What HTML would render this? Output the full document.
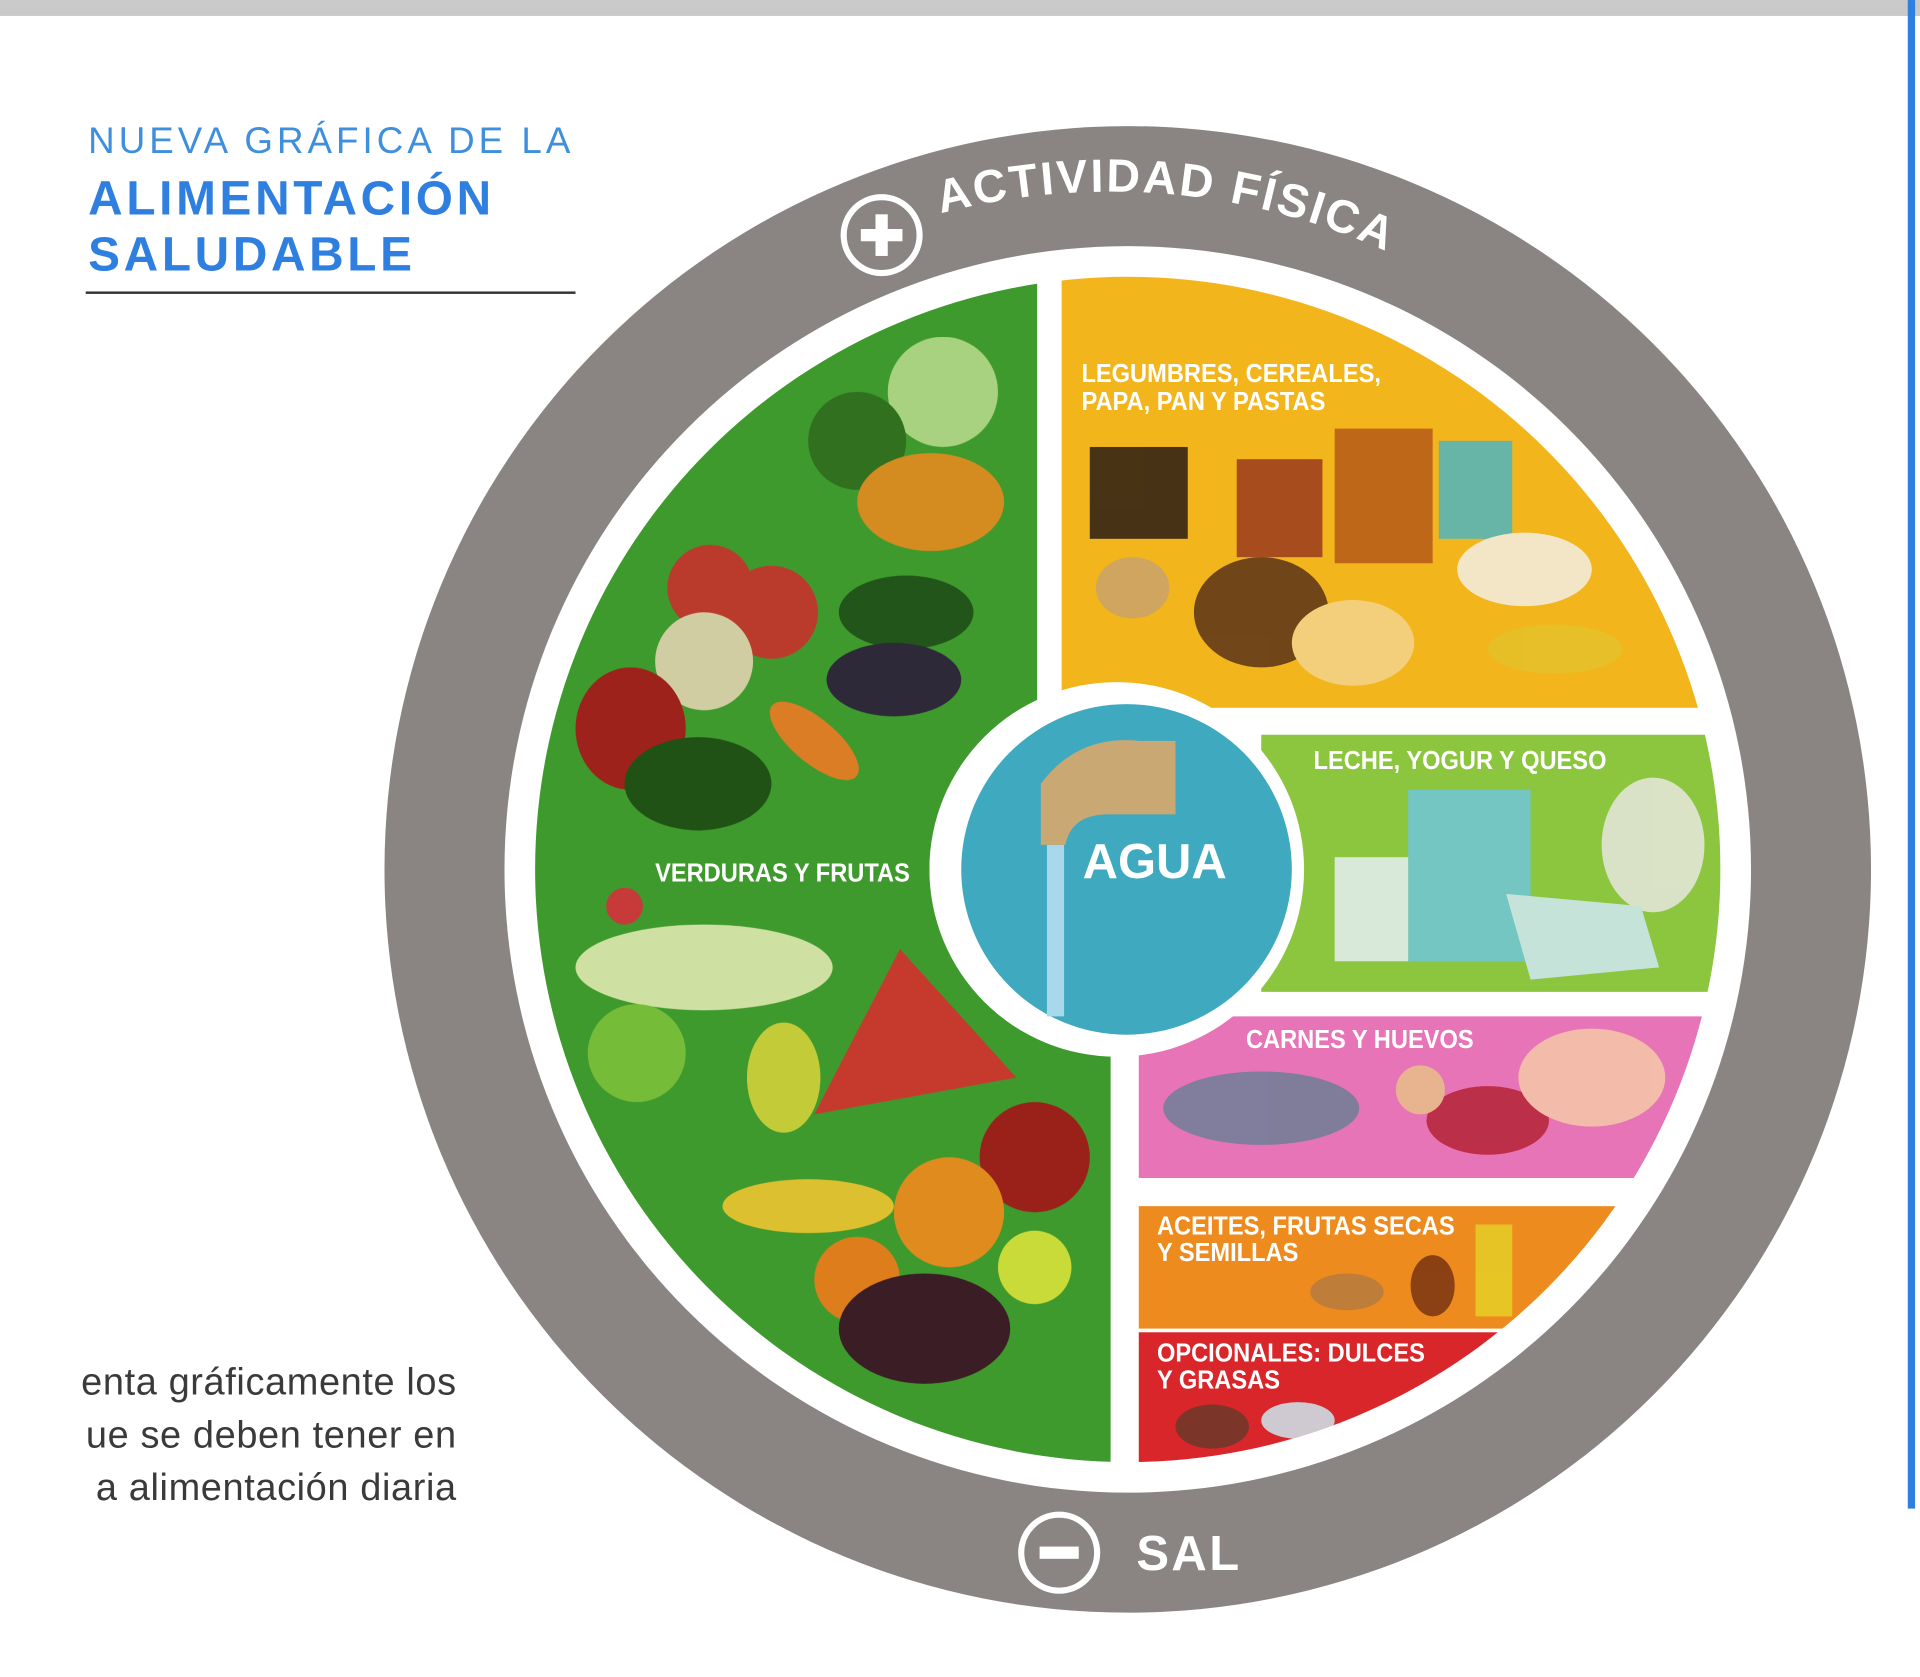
<!DOCTYPE html>
<html><head><meta charset="utf-8"><style>
html,body{margin:0;padding:0;background:#fff;}
svg{display:block;}
</style></head><body>
<svg width="1920" height="1677" viewBox="0 0 1568 1369.5" xmlns="http://www.w3.org/2000/svg">
<defs>
<clipPath id="plate"><circle cx="921" cy="710" r="484"/></clipPath>
<path id="arcTop" d="M 768.3 174.3 A 545 545 0 0 1 1193.5 238"/>
</defs>
<rect x="0" y="0" width="1568" height="13" fill="#c9c9c9"/>
<rect x="1558" y="0" width="6" height="1232" fill="#2f7fe0"/>

<text x="72" y="125" font-family="Liberation Sans, sans-serif" font-size="30" fill="#3f8fdc" letter-spacing="3.3">NUEVA GRÁFICA DE LA</text>
<text x="72" y="175" font-family="Liberation Sans, sans-serif" font-size="39" font-weight="bold" fill="#2f7fe0" letter-spacing="3">ALIMENTACIÓN</text>
<text x="72" y="221" font-family="Liberation Sans, sans-serif" font-size="39" font-weight="bold" fill="#2f7fe0" letter-spacing="3">SALUDABLE</text>
<rect x="70" y="238" width="400" height="2" fill="#333"/>

<g font-family="Liberation Sans, sans-serif" font-size="31" fill="#3a3a3a" text-anchor="end" letter-spacing="0.5">
<text x="373" y="1139">enta gráficamente los</text>
<text x="373" y="1182">ue se deben tener en</text>
<text x="373" y="1225">a alimentación diaria</text>
</g>

<circle cx="921" cy="710" r="607" fill="#8a8583"/>
<circle cx="921" cy="710" r="509" fill="#fff"/>

<g clip-path="url(#plate)">
<path d="M 430 220 L 847 220 L 847 600 L 907 600 L 907 1200 L 430 1200 Z" fill="#3f9a2d"/>
<rect x="867" y="220" width="560" height="358" fill="#f2b51c"/>
<rect x="1030" y="600" width="375" height="210" fill="#8cc63f"/>
<rect x="930" y="830" width="460" height="132" fill="#e874b8"/>
<rect x="930" y="985" width="390" height="100" fill="#ee8b1e"/>
<rect x="930" y="1088" width="300" height="120" fill="#d9262a"/>

<g opacity="0.9">
<circle cx="770" cy="320" r="45" fill="#b5d98a"/>
<circle cx="700" cy="360" r="40" fill="#2f6b1f"/>
<ellipse cx="760" cy="410" rx="60" ry="40" fill="#e6891f"/>
<circle cx="580" cy="480" r="35" fill="#c9302c"/>
<circle cx="630" cy="500" r="38" fill="#c9302c"/>
<circle cx="575" cy="540" r="40" fill="#e3d3b0"/>
<ellipse cx="740" cy="500" rx="55" ry="30" fill="#1f4d18"/>
<ellipse cx="730" cy="555" rx="55" ry="30" fill="#2c1c3b"/>
<ellipse cx="515" cy="595" rx="45" ry="50" fill="#a8151a"/>
<ellipse cx="570" cy="640" rx="60" ry="38" fill="#1e4a14"/>
<ellipse cx="665" cy="605" rx="45" ry="18" fill="#ec7a24" transform="rotate(40 665 605)"/>
<ellipse cx="575" cy="790" rx="105" ry="35" fill="#dfe9b0"/>
<circle cx="520" cy="860" r="40" fill="#7cc13c"/>
<path d="M 735 775 L 830 880 L 665 910 Z" fill="#d62f2f"/>
<ellipse cx="640" cy="880" rx="30" ry="45" fill="#d4d13a"/>
<circle cx="845" cy="945" r="45" fill="#a41419"/>
<ellipse cx="660" cy="985" rx="70" ry="22" fill="#f0c531"/>
<circle cx="775" cy="990" r="45" fill="#f28a1c"/>
<circle cx="700" cy="1045" r="35" fill="#f07a1a"/>
<circle cx="845" cy="1035" r="30" fill="#d9e23a"/>
<ellipse cx="755" cy="1085" rx="70" ry="45" fill="#3b0f25"/>
<circle cx="510" cy="740" r="15" fill="#d6303c"/>
</g>
<g opacity="0.85">
<rect x="890" y="365" width="80" height="75" fill="#2a1c14"/>
<rect x="1010" y="375" width="70" height="80" fill="#9a3a1c"/>
<rect x="1090" y="350" width="80" height="110" fill="#b55a18"/>
<rect x="1175" y="360" width="60" height="80" fill="#4fb5c0"/>
<ellipse cx="1245" cy="465" rx="55" ry="30" fill="#f4efe4"/>
<ellipse cx="1030" cy="500" rx="55" ry="45" fill="#5a3318"/>
<ellipse cx="1105" cy="525" rx="50" ry="35" fill="#f5d48c"/>
<ellipse cx="1270" cy="530" rx="55" ry="20" fill="#e5c12a"/>
<ellipse cx="925" cy="480" rx="30" ry="25" fill="#c9a36b"/>
</g>
<g opacity="0.85">
<rect x="1150" y="645" width="100" height="140" fill="#6fc7d8"/>
<rect x="1090" y="700" width="60" height="85" fill="#e6eef5"/>
<ellipse cx="1350" cy="690" rx="42" ry="55" fill="#e7e7de"/>
<path d="M 1230 730 L 1340 740 L 1355 790 L 1250 800 Z" fill="#cfe9f5"/>
</g>
<g opacity="0.85">
<ellipse cx="1030" cy="905" rx="80" ry="30" fill="#6e7f96"/>
<ellipse cx="1215" cy="915" rx="50" ry="28" fill="#b52335"/>
<ellipse cx="1300" cy="880" rx="60" ry="40" fill="#f6c9a8"/>
<circle cx="1160" cy="890" r="20" fill="#e8c08a"/>
</g>
<g opacity="0.85">
<rect x="1205" y="1000" width="30" height="75" fill="#e6cf27"/>
<ellipse cx="1170" cy="1050" rx="18" ry="25" fill="#7a3412"/>
<ellipse cx="1100" cy="1055" rx="30" ry="15" fill="#b67a3f"/>
<ellipse cx="990" cy="1165" rx="30" ry="18" fill="#6a3a2a"/>
<ellipse cx="1060" cy="1160" rx="30" ry="15" fill="#cce8ef"/>
</g>

<circle cx="912" cy="710" r="153" fill="#fff"/>
<circle cx="920" cy="710" r="135" fill="#3fa9bf"/>
<path d="M 850 640 Q 880 600 930 605 L 960 605 L 960 665 L 905 665 Q 875 665 870 690 L 850 690 Z" fill="#c9a873"/>
<rect x="855" y="690" width="14" height="140" fill="#a9d7ec"/>
<text x="943" y="717" font-family="Liberation Sans, sans-serif" font-size="40" font-weight="bold" fill="#fff" text-anchor="middle">AGUA</text>
</g>

<g font-family="Liberation Sans, sans-serif" font-size="21" font-weight="bold" fill="#fff">
<text x="883" y="312" transform="scale(0.92 1) translate(77 0)">LEGUMBRES, CEREALES,</text>
<text x="883" y="335" transform="scale(0.92 1) translate(77 0)">PAPA, PAN Y PASTAS</text>
<text x="1073" y="628" transform="scale(0.92 1) translate(93 0)">LECHE, YOGUR Y QUESO</text>
<text x="1018" y="856" transform="scale(0.92 1) translate(88 0)">CARNES Y HUEVOS</text>
<text x="945" y="1008" transform="scale(0.92 1) translate(82 0)">ACEITES, FRUTAS SECAS</text>
<text x="945" y="1030" transform="scale(0.92 1) translate(82 0)">Y SEMILLAS</text>
<text x="945" y="1112" transform="scale(0.92 1) translate(82 0)">OPCIONALES: DULCES</text>
<text x="945" y="1134" transform="scale(0.92 1) translate(82 0)">Y GRASAS</text>
<text x="535" y="720" transform="scale(0.92 1) translate(46.5 0)">VERDURAS Y FRUTAS</text>
</g>

<text font-family="Liberation Sans, sans-serif" font-size="38" font-weight="bold" fill="#fff" letter-spacing="2"><textPath href="#arcTop" startOffset="0">ACTIVIDAD FÍSICA</textPath></text>
<circle cx="720" cy="192" r="31" fill="none" stroke="#fff" stroke-width="5"/>
<rect x="703" y="187" width="34" height="10" fill="#fff"/>
<rect x="715" y="175" width="10" height="34" fill="#fff"/>

<circle cx="865" cy="1268" r="31" fill="none" stroke="#fff" stroke-width="5"/>
<rect x="849" y="1263" width="32" height="10" fill="#fff"/>
<text x="928" y="1282" font-family="Liberation Sans, sans-serif" font-size="40" font-weight="bold" fill="#fff" letter-spacing="2">SAL</text>
</svg>
</body></html>
